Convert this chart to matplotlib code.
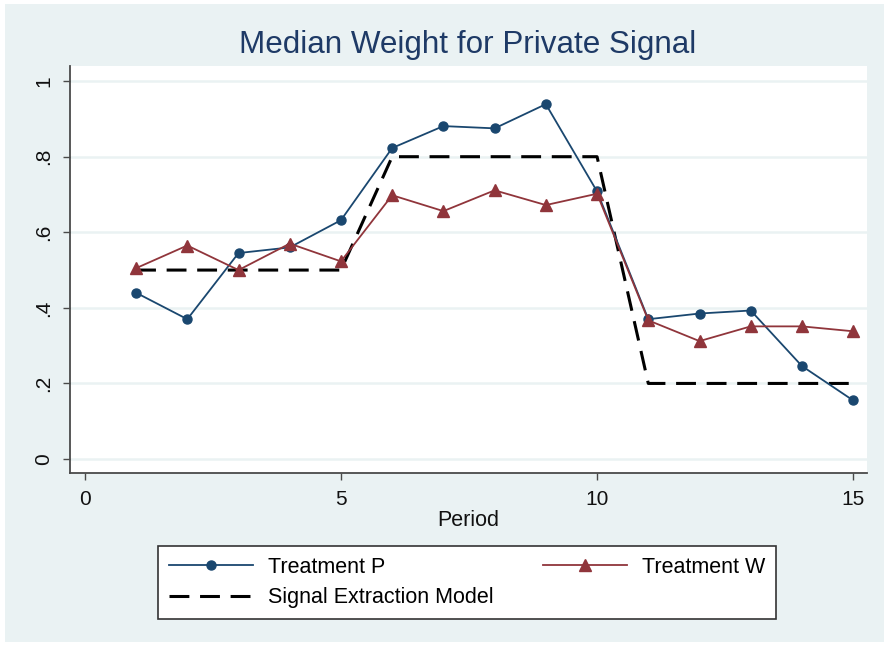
import numpy as np
import matplotlib
matplotlib.use("Agg")
import matplotlib.pyplot as plt
from matplotlib.patches import Rectangle

plt.rcParams['font.family'] = ['Liberation Sans', 'DejaVu Sans']

# Data
periods = [1, 2, 3, 4, 5, 6, 7, 8, 9, 10, 11, 12, 13, 14, 15]
treatment_p = [0.44, 0.37, 0.545, 0.56, 0.632, 0.823, 0.881, 0.875, 0.939, 0.708,
               0.37, 0.385, 0.393, 0.246, 0.155]
treatment_w = [0.505, 0.565, 0.50, 0.57, 0.523, 0.698, 0.656, 0.711, 0.672, 0.702,
               0.367, 0.312, 0.351, 0.351, 0.338]
model = [0.5, 0.5, 0.5, 0.5, 0.5, 0.8, 0.8, 0.8, 0.8, 0.8, 0.2, 0.2, 0.2, 0.2, 0.2]

y_ticks = [0, 0.2, 0.4, 0.6, 0.8, 1.0]
y_tick_labels = ["0", ".2", ".4", ".6", ".8", "1"]
x_ticks = [0, 5, 10, 15]

bg = "#EAF2F3"
blue = "#1A476F"
red = "#90353B"
axis_col = "#4a4a4a"

fig = plt.figure(figsize=(8.86, 6.46), dpi=100, facecolor="white")
fig.patches.append(Rectangle((5 / 886, 4 / 646), 879 / 886, 638 / 646,
                             transform=fig.transFigure, facecolor=bg,
                             edgecolor="none", zorder=-10))

ax = fig.add_axes([70 / 886, 1 - 473 / 646, 797 / 886, 407 / 646])
ax.set_facecolor("white")

ax.plot(periods, treatment_p, color=blue, lw=1.3, marker="o", markersize=6.5,
        label="Treatment P", zorder=3)
ax.plot(periods, treatment_w, color=red, lw=1.3, marker="^", markersize=8.5,
        label="Treatment W", zorder=3)
ax.plot(periods, model, color="black", lw=2.2, dashes=(6.5, 3.5),
        label="Signal Extraction Model", zorder=2)

ax.set_xlim(-0.29, 15.27)
ax.set_ylim(-0.037, 1.04)
ax.set_yticks(y_ticks)
ax.set_yticklabels(y_tick_labels, rotation=90, va="center")
ax.set_xticks(x_ticks)
ax.grid(axis="y", color=bg, lw=1.8, zorder=0)
ax.set_axisbelow(True)

for s in ["top", "right"]:
    ax.spines[s].set_visible(False)
for s in ["left", "bottom"]:
    ax.spines[s].set_color(axis_col)
    ax.spines[s].set_linewidth(1.3)
ax.tick_params(axis="both", length=5, width=1, color=axis_col, labelsize=15,
               pad=7, labelcolor="#111111")

ax.set_xlabel("Period", fontsize=15.5, color="#111111", labelpad=1)
fig.text(468 / 886, 1 - 45 / 646, "Median Weight for Private Signal",
         ha="center", va="center", fontsize=22.6, color="#1E3A66")

handles, labels = ax.get_legend_handles_labels()
order = [0, 2, 1]
leg = fig.legend([handles[i] for i in order], [labels[i] for i in order],
                 ncol=2, loc="upper left",
                 bbox_to_anchor=(158 / 886, 1 - 546 / 646),
                 fontsize=15.5, frameon=True, fancybox=False, framealpha=1,
                 handlelength=3.9, borderaxespad=0, handletextpad=0.7,
                 columnspacing=2.3, labelspacing=0.45, borderpad=0.5)
leg.get_frame().set_edgecolor("#333333")
leg.get_frame().set_linewidth(1.2)

fig.savefig("out.png", dpi=100, facecolor=fig.get_facecolor())
